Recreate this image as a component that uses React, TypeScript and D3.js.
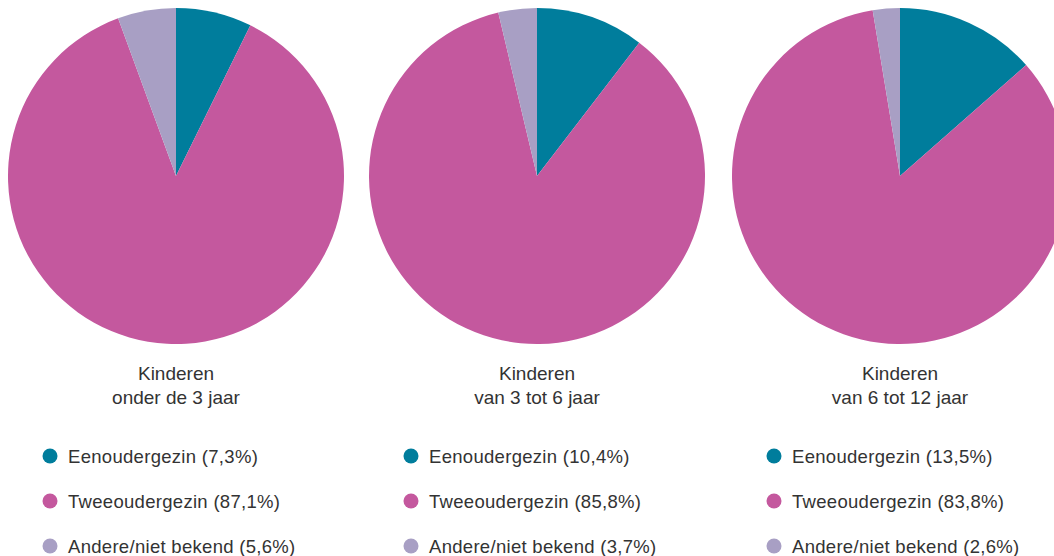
import React from 'react';
import { pie, arc, scaleOrdinal } from 'd3';

const categories = ['Eenoudergezin', 'Tweeoudergezin', 'Andere/niet bekend'];
const colors = ['#007d9c', '#c4589e', '#a89fc4'];
const groupTitles = [
  ['Kinderen', 'onder de 3 jaar'],
  ['Kinderen', 'van 3 tot 6 jaar'],
  ['Kinderen', 'van 6 tot 12 jaar'],
];
const under3 = [7.3, 87.1, 5.6];
const from3to6 = [10.4, 85.8, 3.7];
const from6to12 = [13.5, 83.8, 2.6];
const groups = [under3, from3to6, from6to12];

const centersX = [176, 537, 900];
const centerY = 176;
const radius = 168;

const fmt = (v: number) => v.toFixed(1).replace('.', ',');

export default function App() {
  const color = scaleOrdinal<string, string>().domain(categories).range(colors);
  const pieGen = pie<number>().sort(null).value((d) => d);
  const arcGen = arc<any>().innerRadius(0).outerRadius(radius);

  return (
    <svg
      width={1054}
      height={556}
      style={{ position: 'absolute', left: 0, top: 0, display: 'block', background: '#fff' }}
      fontFamily="'Liberation Sans', Arial, sans-serif"
    >
      {groups.map((values, gi) => {
        const cx = centersX[gi];
        const slices = pieGen(values);
        return (
          <g key={gi}>
            <g transform={`translate(${cx},${centerY})`}>
              {slices.map((s, i) => (
                <path key={i} d={arcGen(s) as string} fill={color(categories[i])} />
              ))}
            </g>
            <text x={cx} textAnchor="middle" fontSize={19} fill="#333">
              <tspan x={cx} y={380}>{groupTitles[gi][0]}</tspan>
              <tspan x={cx} y={404}>{groupTitles[gi][1]}</tspan>
            </text>
            {categories.map((c, i) => {
              const y = 462.5 + i * 45;
              return (
                <g key={c}>
                  <circle cx={cx - 126} cy={y - 6.5} r={7.5} fill={color(c)} />
                  <text x={cx - 108} y={y} fontSize={18.5} letterSpacing={0.3} fill="#333">
                    {`${c} (${fmt(values[i])}%)`}
                  </text>
                </g>
              );
            })}
          </g>
        );
      })}
    </svg>
  );
}
